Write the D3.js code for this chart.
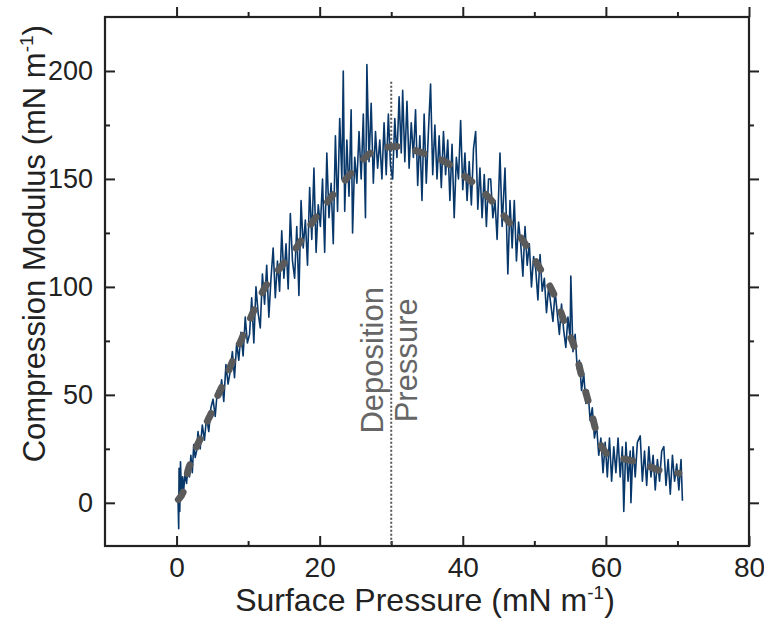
<!DOCTYPE html>
<html>
<head>
<meta charset="utf-8">
<script src="https://cdn.jsdelivr.net/npm/d3@7"></script>
<style>
body { margin: 0; background: #fff; }
text { font-family: "Liberation Sans", Arial, sans-serif; }
</style>
</head>
<body>
<div id="vis"></div>
<script>
// measured curve (surface pressure vs compression modulus)
const pressure = [
	0.2,0.3,0.35,0.45,0.55,0.7,0.85,1.0,1.2,1.4,
	1.6,1.8,2.0,2.2,2.4,2.6,2.8,3.0,3.3,3.6,
	3.9,4.2,4.5,4.8,5.1,5.4,5.7,6.0,6.3,6.6,
	6.9,7.2,7.5,7.8,8.1,8.4,8.7,9.0,9.3,9.6,
	9.9,10.2,10.5,10.8,11.1,11.4,11.7,12.0,12.3,12.6,
	12.9,13.2,13.5,13.8,14.1,14.4,14.7,15.0,15.3,15.6,
	15.9,16.2,16.5,16.8,17.1,17.4,17.7,18.0,18.3,18.6,
	18.9,19.2,19.5,19.8,20.1,20.4,20.7,21.0,21.3,21.6,
	21.9,22.2,22.5,22.8,23.1,23.3,23.5,23.8,24.1,24.4,
	24.6,24.9,25.2,25.5,25.8,26.1,26.4,26.6,26.9,27.2,
	27.5,27.8,28.1,28.4,28.7,29.0,29.3,29.6,29.9,30.2,
	30.5,30.8,31.1,31.4,31.6,31.9,32.2,32.5,32.8,33.1,
	33.4,33.7,34.0,34.3,34.6,34.9,35.2,35.5,35.8,36.1,
	36.4,36.7,37.0,37.3,37.6,37.9,38.2,38.5,38.8,39.1,
	39.4,39.7,40.0,40.3,40.6,40.9,41.2,41.5,41.8,42.1,
	42.4,42.7,43.0,43.3,43.6,43.9,44.2,44.5,44.8,45.2,
	45.5,45.9,46.3,46.6,46.9,47.2,47.5,47.8,48.1,48.4,
	48.7,49.0,49.3,49.6,49.9,50.2,50.5,50.8,51.1,51.4,
	51.7,52.0,52.3,52.6,52.9,53.2,53.5,53.8,54.1,54.4,
	54.7,55.0,55.1,55.4,55.7,56.0,56.3,56.6,56.9,57.2,
	57.5,57.8,58.1,58.4,58.7,59.0,59.3,59.6,59.9,60.2,
	60.5,60.8,61.1,61.4,61.7,62.0,62.3,62.5,62.8,63.1,
	63.4,63.5,63.8,64.1,64.4,64.8,65.1,65.4,65.7,66.0,
	66.3,66.6,66.9,67.2,67.5,67.8,68.1,68.4,68.7,69.0,
	69.3,69.6,69.9,70.2,70.5,70.7];
const modulus = [
	2,-12,16,-4,19,3,12,6,14,9,
	17,12,22,14,27,21,24,33,25,36,
	29,40,33,44,48,40,52,49,57,47,
	64,55,61,70,58,74,66,79,68,86,
	74,78,95,74,100,88,81,106,92,110,
	86,104,118,95,112,98,126,104,120,99,
	134,112,104,128,96,140,118,131,110,146,
	122,155,116,138,128,150,116,162,132,148,
	120,170,135,178,150,200,135,168,142,182,
	125,160,148,172,150,180,132,203,158,185,
	148,172,155,168,150,176,152,180,156,150,
	178,160,188,162,191,158,186,155,176,160,
	182,147,170,140,180,148,172,194,152,175,
	150,170,146,172,152,168,140,166,132,160,
	150,177,145,162,140,158,138,164,172,136,
	155,132,152,128,150,150,132,140,122,162,
	128,155,106,140,118,140,112,130,120,105,
	128,110,120,100,114,108,94,115,98,104,
	88,100,92,84,98,88,78,92,80,72,
	86,76,105,70,78,62,66,52,60,46,
	52,38,44,30,36,22,30,14,28,12,
	30,10,26,14,30,12,26,-4,28,10,
	24,0,26,12,28,31,10,24,8,26,
	12,22,6,20,10,24,26,8,20,4,
	22,10,18,6,20,1];
// smoothed fit drawn as the grey dashed curve
const smoothPressure = [0.25,1.2,1.6,2.2,2.8,3.6,4.2,4.9,5.4,6.1,8,10,12.4,14.5,16.7,19,21.7,24.5,27.1,29,30.8,32.5,34.4,37.5,40.2,43.6,46.1,48.7,50.8,52.9,54.4,55.7,56.8,58,58.9,59.8,60.8,63,65.2,67.5,70.2];
const smoothModulus = [1.5,8,15,20,26,31.5,37,42,47,52,67,83,100,109,118,130,142,153,162,164.5,165,164,162,158,151.5,141.5,131.5,120,108.4,95.3,82,71,56,41.4,30,24,21.4,20,18,15,13.7];
const depositionPressure = 30;
const depositionTop = 195;
const xTicks = [0,20,40,60,80];
const xMinorTicks = [10,30,50,70];
const yTicks = [0,50,100,150,200];
const yMinorTicks = [25,75,125,175];

const W = 764, H = 619;
const margin = {top: 17, right: 15, bottom: 73, left: 105};
const width = W - margin.left - margin.right;
const height = H - margin.top - margin.bottom;

const svg = d3.select("#vis").append("svg")
	.attr("width", W)
	.attr("height", H);
const g = svg.append("g")
	.attr("transform", `translate(${margin.left},${margin.top})`);

const x = d3.scaleLinear().domain([-10, 80]).range([0, width]);
const y = d3.scaleLinear().domain([-20, 225]).range([height, 0]);

const axisCol = "#222";

// ticks, pointing inwards on all four sides
function ticks(axisFn, scale, vals, len, labels, tr) {
	const a = g.append("g")
		.attr("transform", tr || null)
		.call(axisFn(scale).tickValues(vals).tickSize(-len).tickSizeOuter(0)
			.tickFormat(labels ? d3.format("d") : ""));
	a.select(".domain").remove();
	a.selectAll(".tick line").attr("stroke", axisCol).attr("stroke-width", 2);
	return a;
}
const bx = ticks(d3.axisBottom, x, xTicks, 10, true, `translate(0,${height})`);
ticks(d3.axisBottom, x, xMinorTicks, 5, false, `translate(0,${height})`);
ticks(d3.axisTop, x, xTicks, -10, false);
ticks(d3.axisTop, x, xMinorTicks, -5, false);
const ly = ticks(d3.axisLeft, y, yTicks, 10, true);
ticks(d3.axisLeft, y, yMinorTicks, 5, false);
ticks(d3.axisRight, y, yTicks, -10, false, `translate(${width},0)`);
ticks(d3.axisRight, y, yMinorTicks, -5, false, `translate(${width},0)`);

bx.selectAll(".tick text")
	.attr("y", 10)
	.attr("dy", "0.75em")
	.style("font-size", "28px")
	.attr("fill", axisCol);
ly.selectAll(".tick text")
	.attr("x", -12)
	.style("font-size", "27px")
	.attr("fill", axisCol);

// deposition pressure marker
g.append("line")
	.attr("x1", x(depositionPressure)).attr("x2", x(depositionPressure))
	.attr("y1", y(depositionTop)).attr("y2", height)
	.attr("stroke", "#555")
	.attr("stroke-width", 2)
	.attr("stroke-dasharray", "2,2");

const pts = pressure.map((p, i) => [p, modulus[i]]);
g.append("path")
	.datum(pts)
	.attr("fill", "none")
	.attr("stroke", "#08376a")
	.attr("stroke-width", 1.6)
	.attr("stroke-linejoin", "round")
	.attr("d", d3.line().x(d => x(d[0])).y(d => y(d[1])));

const fit = smoothPressure.map((p, i) => [p, smoothModulus[i]]);
g.append("path")
	.datum(fit)
	.attr("fill", "none")
	.attr("stroke", "#5a5a5a")
	.attr("stroke-width", 7)
	.attr("stroke-linecap", "round")
	.attr("stroke-dasharray", "9,19")
	.attr("d", d3.line().curve(d3.curveMonotoneX).x(d => x(d[0])).y(d => y(d[1])));

// frame
g.append("rect")
	.attr("width", width).attr("height", height)
	.attr("fill", "none")
	.attr("stroke", axisCol)
	.attr("stroke-width", 2.2);

// annotation
const ann = g.append("text")
	.attr("transform", `translate(${x(depositionPressure) - 8},${y(66)}) rotate(-90)`)
	.attr("text-anchor", "middle")
	.attr("fill", "#666")
	.style("font-size", "31px");
ann.append("tspan").attr("x", 0).attr("dy", 0).text("Deposition");
ann.append("tspan").attr("x", 0).attr("dy", "1.1em").text("Pressure");

// axis titles
const xt = svg.append("text")
	.attr("x", 425)
	.attr("y", 611)
	.attr("text-anchor", "middle")
	.attr("fill", axisCol)
	.style("font-size", "32px");
xt.append("tspan").text("Surface Pressure (mN m");
xt.append("tspan").attr("dy", -12).style("font-size", "19px").text("-1");
xt.append("tspan").attr("dy", 12).text(")");

const yt = svg.append("text")
	.attr("transform", `translate(45,${margin.top + y(120)}) rotate(-90)`)
	.attr("text-anchor", "middle")
	.attr("fill", axisCol)
	.style("font-size", "31px");
yt.append("tspan").text("Compression Modulus (mN m");
yt.append("tspan").attr("dy", -12).style("font-size", "19px").text("-1");
yt.append("tspan").attr("dy", 12).text(")");
</script>
</body>
</html>
